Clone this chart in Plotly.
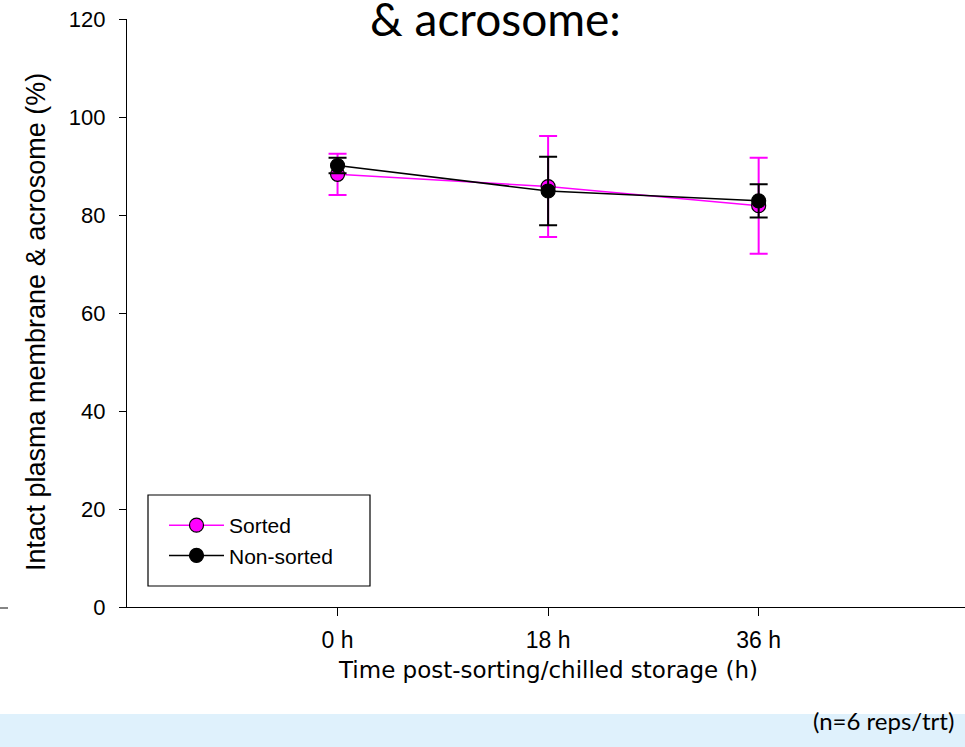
import plotly.graph_objects as go

categories = ["0 h", "18 h", "36 h"]
positions = [1, 2, 3]
sorted_vals = [88.3, 85.8, 81.9]
sorted_err = [4.2, 10.3, 9.8]
nonsorted_vals = [90.1, 84.9, 82.9]
nonsorted_err = [1.6, 7.0, 3.4]

W, H = 965, 747
L, R, T, B = 127, 0, 19, 140
pw, ph = W - L - R, H - T - B

def px(x):
    return (x - L) / pw

def py(y):
    return (H - B - y) / ph

fig = go.Figure()
fig.add_trace(go.Scatter(
    x=positions, y=sorted_vals, name="Sorted", mode="lines+markers",
    line=dict(color="#ff00ff", width=1.5),
    marker=dict(color="#ff00ff", size=14, line=dict(color="black", width=1.2)),
    error_y=dict(type="data", array=sorted_err, color="#ff00ff", thickness=2, width=9),
))
fig.add_trace(go.Scatter(
    x=positions, y=nonsorted_vals, name="Non-sorted", mode="lines+markers",
    line=dict(color="black", width=1.5),
    marker=dict(color="black", size=14, line=dict(color="black", width=1.2)),
    error_y=dict(type="data", array=nonsorted_err, color="black", thickness=2, width=9),
))

fig.update_layout(
    width=W, height=H,
    margin=dict(l=L, r=R, t=T, b=B),
    paper_bgcolor="white", plot_bgcolor="white",
    showlegend=True,
    legend=dict(
        x=px(164), y=py(505), xanchor="left", yanchor="top",
        borderwidth=0, bgcolor="rgba(0,0,0,0)",
        font=dict(family="Liberation Sans, Arial", size=21, color="black"),
        tracegroupgap=0, itemwidth=55,
    ),
    xaxis=dict(
        range=[0, 3.98], tickmode="array", tickvals=positions, ticktext=categories,
        showline=True, linecolor="black", linewidth=1.2, mirror=False,
        ticks="outside", ticklen=8, tickcolor="black", tickwidth=1.2,
        showgrid=False, zeroline=False, ticklabelstandoff=4,
        tickfont=dict(family="Liberation Sans, Arial", size=23, color="black"),
    ),
    yaxis=dict(
        range=[0, 120], tickvals=[0, 20, 40, 60, 80, 100, 120],
        showline=True, linecolor="black", linewidth=1.2,
        ticks="outside", ticklen=7, tickcolor="black", tickwidth=1.2,
        showgrid=False, zeroline=False, ticklabelstandoff=9,
        tickfont=dict(family="Liberation Sans, Arial", size=22, color="black"),
    ),
    shapes=[
        dict(type="rect", xref="paper", yref="paper", x0=px(0), x1=px(W), y0=py(H), y1=py(714),
             fillcolor="#dff1fc", line=dict(width=0), layer="below"),
        dict(type="line", xref="paper", yref="paper", x0=px(0), x1=px(8), y0=py(608), y1=py(608),
             line=dict(color="#333333", width=1.2)),
        dict(type="rect", xref="paper", yref="paper", x0=px(148), x1=px(370), y0=py(586), y1=py(495),
             fillcolor="rgba(0,0,0,0)", line=dict(color="black", width=1.2)),
    ],
    annotations=[
        dict(text="& acrosome:", xref="paper", yref="paper", x=px(495), y=py(48),
             xanchor="center", yanchor="bottom", showarrow=False,
             font=dict(family="Lato, Open Sans", size=46, color="black")),
        dict(text="(n=6 reps/trt)", xref="paper", yref="paper", x=px(956), y=py(720),
             xanchor="right", yanchor="middle", showarrow=False,
             font=dict(family="Lato, Open Sans", size=24, color="black")),
        dict(text="Time post-sorting/chilled storage (h)", xref="paper", yref="paper",
             x=px(548), y=py(670), xanchor="center", yanchor="middle", showarrow=False,
             font=dict(family="DejaVu Sans, Liberation Sans", size=23, color="black")),
        dict(text="Intact plasma membrane & acrosome (%)", xref="paper", yref="paper",
             x=px(36), y=py(322), xanchor="center", yanchor="middle", showarrow=False,
             textangle=-90,
             font=dict(family="Liberation Sans, Arial", size=27, color="black")),
    ],
)

fig.write_html("out.html")
